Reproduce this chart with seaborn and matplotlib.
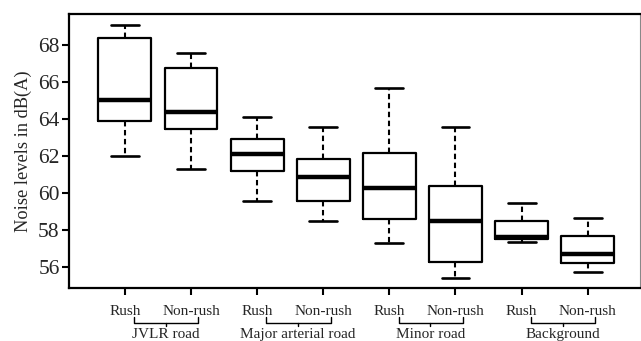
import numpy as np
import pandas as pd
import matplotlib
matplotlib.use("Agg")
import matplotlib.pyplot as plt
import matplotlib.transforms as mtransforms
import seaborn as sns

# ---- data ----
groups = ["JVLR road", "Major arterial road", "Minor road", "Background"]
periods = ["Rush", "Non-rush"]
whis_low = [62.0, 61.3, 59.6, 58.5, 57.3, 55.4, 57.35, 55.75]
q1 = [63.93, 63.5, 61.2, 59.6, 58.6, 56.3, 57.5, 56.23]
median = [65.05, 64.4, 62.1, 60.88, 60.3, 58.5, 57.63, 56.74]
q3 = [68.42, 66.8, 62.92, 61.84, 62.2, 60.4, 58.5, 57.68]
whis_high = [69.08, 67.6, 64.15, 63.58, 65.7, 63.58, 59.5, 58.66]
yticks = [56, 58, 60, 62, 64, 66, 68]

rows = []
order = []
for gi, g in enumerate(groups):
    for pi, p in enumerate(periods):
        k = gi * 2 + pi
        key = f"{g}|{p}"
        order.append(key)
        for v in (whis_low[k], q1[k], median[k], q3[k], whis_high[k]):
            rows.append({"cat": key, "value": v})
df = pd.DataFrame(rows)

sns.set_theme(style="ticks")
plt.rcParams["font.family"] = ["Liberation Serif", "DejaVu Serif"]

fig = plt.figure(figsize=(6.41, 3.41), dpi=100)
ax = fig.add_axes([69.3 / 641, 1 - 288.3 / 341, (640 - 69.3) / 641, (288.3 - 14.3) / 341])

sns.boxplot(
    data=df, x="cat", y="value", order=order, ax=ax,
    whis=(0, 100), width=0.8, fill=False, color="black", linecolor="black",
    linewidth=1.5,
    whiskerprops=dict(linestyle=(0, (2.6, 1.7)), linewidth=1.5, color="black"),
    capprops=dict(linewidth=1.9, color="black"),
    medianprops=dict(linewidth=3.2, color="black"),
    boxprops=dict(linewidth=1.6, color="black"),
    capwidths=0.42,
    showfliers=False,
)

ax.set_xlim(-0.84, 7.79)
ax.set_ylim(54.86, 69.68)
ax.set_yticks(yticks)
ax.set_yticklabels([str(t) for t in yticks], fontsize=15.5)
ax.set_xticks(range(len(order)))
ax.set_xticklabels([p for g in groups for p in periods], fontsize=11)
ax.tick_params(axis="both", direction="out", length=5, width=1.5, color="black")
ax.tick_params(axis="x", pad=7)
ax.tick_params(axis="y", pad=2)
ax.set_xlabel("")
ax.set_ylabel("Noise levels in dB(A)", fontsize=13.2, labelpad=4)

for s in ["left", "bottom", "top"]:
    ax.spines[s].set_visible(True)
    ax.spines[s].set_linewidth(1.6)
    ax.spines[s].set_color("black")
ax.spines["right"].set_visible(True)
ax.spines["right"].set_linewidth(0.8)
ax.spines["right"].set_color("#888888")

# group brackets under the tick labels
trans = mtransforms.blended_transform_factory(ax.transData, ax.transAxes)
y_h = -0.126
y_up = -0.106
y_dn = -0.139
for gi, g in enumerate(groups):
    x0 = 2 * gi + 0.14
    x1 = 2 * gi + 1 + 0.11
    xc = 2 * gi + 0.5 + 0.12
    ax.plot([x0, x0, x1, x1], [y_up, y_h, y_h, y_up], transform=trans,
            color="black", lw=1.0, clip_on=False)
    ax.plot([xc, xc], [y_h, y_dn], transform=trans, color="black", lw=1.0,
            clip_on=False)
    ax.text(xc, -0.146, g, transform=trans, ha="center", va="top", fontsize=11)

fig.savefig("out.png", dpi=100)
